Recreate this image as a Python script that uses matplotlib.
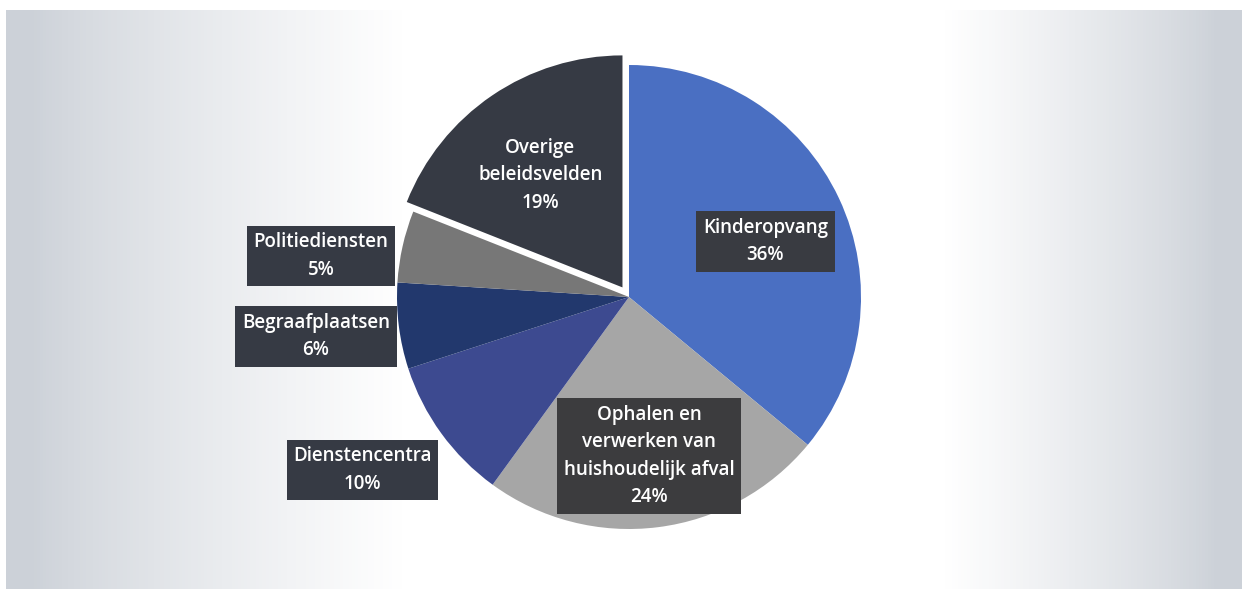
import numpy as np
from matplotlib import pyplot as plt

# Data
labels = ['Kinderopvang', 'Ophalen en\nverwerken van\nhuishoudelijk afval', 'Dienstencentra',
          'Begraafplaatsen', 'Politiediensten', 'Overige\nbeleidsvelden']
values = [36, 24, 10, 6, 5, 19]
colors = ['#4a6fc2', '#a6a6a6', '#3d4a90', '#22386d', '#777777', '#363a44']
box_colors = ['#393b41', '#3c3c3e', '#363a44', '#363a44', '#363a44', '#363a44']
explode_frac = [0, 0, 0, 0, 0, 0.05]
# label placement: distance from centre (fraction of radius) and angle shift (degrees)
label_dist = [0.635, 0.69, 1.37, 1.36, 1.34, 0.60]
label_shift = [-3, 0, -3, 0, 5, 2]

W, H = 1242, 589
fig = plt.figure(figsize=(W / 100, H / 100), dpi=100)

# BACKGROUND: grey vignette with white middle band. #
bg = fig.add_axes([0, 0, 1, 1])
xs = np.linspace(0, 1, 400)
profile = np.clip(np.minimum((xs - 0.02) / 0.30, (0.98 - xs) / 0.22), 0, 1) ** 0.8
edge = np.array([204, 209, 216]) / 255.
img = edge[None, :] + (1 - edge[None, :]) * profile[:, None]
img = np.repeat(img[None, :, :], 2, axis=0)
bg.imshow(img, extent=(6, W, H, 10), aspect='auto')
bg.set_xlim(0, W)
bg.set_ylim(H, 0)
bg.axis('off')

# PIE. #
ax = fig.add_axes([0, 0, 1, 1])
ax.patch.set_alpha(0)
cx, cy, r = 629, H - 297, 232
wedges, _ = ax.pie(values, colors=colors, explode=[e * r for e in explode_frac], startangle=90,
                   counterclock=False, center=(cx, cy), radius=r, wedgeprops=dict(linewidth=0))
ax.set_xlim(0, W)
ax.set_ylim(0, H)
ax.axis('off')

for wedge, label, value, dist, shift, bc in zip(wedges, labels, values, label_dist, label_shift, box_colors):
    ang = np.deg2rad((wedge.theta1 + wedge.theta2) / 2 + shift)
    wx, wy = wedge.center
    tx = wx + dist * r * np.cos(ang)
    ty = wy + dist * r * np.sin(ang)
    ax.text(tx, ty, '{}\n{}%'.format(label, value), ha='center', va='center', color='white',
            fontsize=13.5, family='Open Sans', weight='semibold', linespacing=1.5,
            bbox=dict(boxstyle='square,pad=0.35', fc=bc, ec='none'))

plt.savefig('out.png', dpi=100)
